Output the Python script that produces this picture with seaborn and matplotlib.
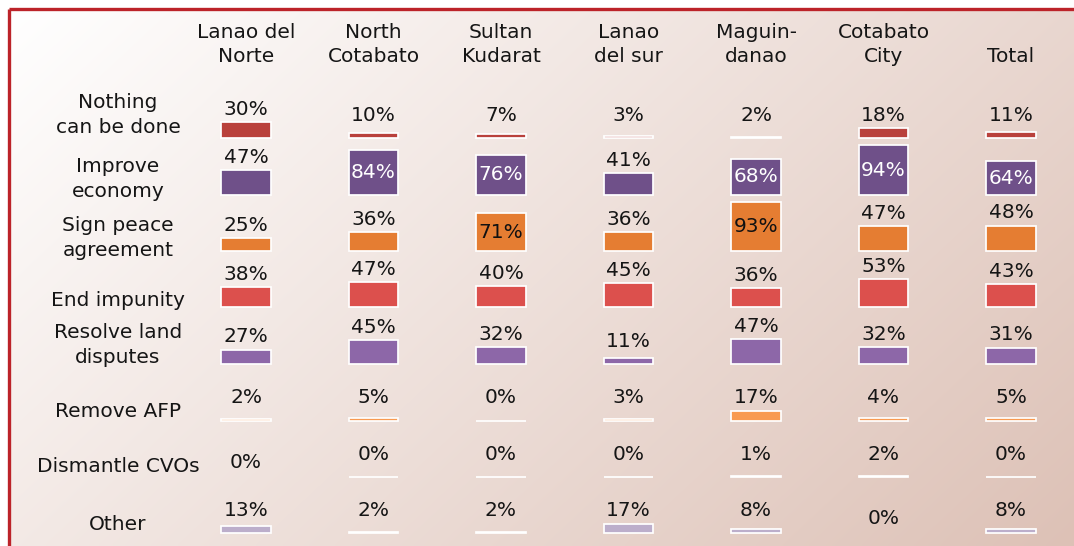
import numpy as np
import matplotlib
matplotlib.use("Agg")
import matplotlib.pyplot as plt
import seaborn as sns

# ---- data ---------------------------------------------------------------
regions = ["Lanao del\nNorte", "North\nCotabato", "Sultan\nKudarat",
           "Lanao\ndel sur", "Maguin-\ndanao", "Cotabato\nCity", "Total"]

actions = ["Nothing\ncan be done", "Improve\neconomy", "Sign peace\nagreement",
           "End impunity", "Resolve land\ndisputes", "Remove AFP",
           "Dismantle CVOs", "Other"]

nothing_done   = [30, 10, 7, 3, 2, 18, 11]
improve_econ   = [47, 84, 76, 41, 68, 94, 64]
sign_peace     = [25, 36, 71, 36, 93, 47, 48]
end_impunity   = [38, 47, 40, 45, 36, 53, 43]
resolve_land   = [27, 45, 32, 11, 47, 32, 31]
remove_afp     = [2, 5, 0, 3, 17, 4, 5]
dismantle_cvos = [0, 0, 0, 0, 1, 2, 0]
other          = [13, 2, 2, 17, 8, 0, 8]

values = [nothing_done, improve_econ, sign_peace, end_impunity,
          resolve_land, remove_afp, dismantle_cvos, other]

# cells reported as 0% with no bar drawn (row, column)
no_bar = {(6, 0), (7, 5)}

# ---- styling ------------------------------------------------------------
row_colors = ["#B9413C", "#6F5089", "#E57D32", "#DC504D",
              "#8D67A8", "#F89A50", "#A8BBD0", "#BCAECB"]
inside_text_color = {1: "white", 2: "#111111"}

W, H = 1074, 546
sns.set_style("white")
plt.rcParams["font.family"] = ["DejaVu Sans"]
FS = 14.5
TXT = "#151515"

fig = plt.figure(figsize=(W / 100, H / 100), dpi=100)

# background panel with a soft diagonal gradient and a red frame
bg = fig.add_axes([0, 0, 1, 1], zorder=-5)
bg.set_xlim(0, W)
bg.set_ylim(H, 0)
bg.axis("off")
gx, gy = np.meshgrid(np.linspace(0, 1, 300), np.linspace(0, 1, 160))
t = 0.65 * gx + 0.35 * gy
c0 = np.array([255, 255, 255]) / 255
c1 = np.array([221, 193, 182]) / 255
grad = c0[None, None, :] + t[..., None] * (c1 - c0)[None, None, :]
bg.imshow(grad, extent=(10, W, H, 10), aspect="auto", interpolation="bilinear")
bg.plot([9, 9], [9, H], color="#BC2329", lw=2.4, solid_capstyle="butt")
bg.plot([9, W], [9, 9], color="#BC2329", lw=2.4, solid_capstyle="butt")

# column headers
col_left, col_width = 182.25, 892.5
step = col_width / len(regions)
for j, name in enumerate(regions):
    xc = (col_left + step * (j + 0.5)) / W
    fig.text(xc, 1 - 62 / H, name, ha="center", va="baseline",
             fontsize=FS, color=TXT, linespacing=1.36)

# one strip of bars per action
baselines = [138, 195, 251, 307, 364, 420.5, 477, 533]
label_lift = [23, 16, 13, 7, 19, 9, 11, 8]
px_per_100 = 53

for i, (action, vals) in enumerate(zip(actions, values)):
    base = baselines[i]
    ax = fig.add_axes([col_left / W, (H - base) / H, col_width / W, px_per_100 / H])
    sns.barplot(x=list(range(len(regions))), y=vals, color=row_colors[i],
                saturation=1, width=0.39, edgecolor="white", linewidth=1.25,
                ax=ax)
    ax.set_xlim(-0.5, len(regions) - 0.5)
    ax.set_ylim(0, 100)
    ax.axis("off")
    for j, p in enumerate(ax.patches):
        p.set_clip_on(False)
        if (i, j) in no_bar:
            p.set_visible(False)

    for j, v in enumerate(vals):
        label = f"{v}%"
        if (i, j) in no_bar:
            ax.text(j, 27, label, ha="center", va="center", fontsize=FS,
                    color=TXT, clip_on=False)
        elif v >= 60:
            ax.text(j, v / 2, label, ha="center", va="center", fontsize=FS,
                    color=inside_text_color.get(i, "white"), clip_on=False)
        else:
            ax.text(j, max(v + 24, 43), label, ha="center", va="center",
                    fontsize=FS, color=TXT, clip_on=False)

    fig.text(118 / W, 1 - (base - label_lift[i]) / H, action, ha="center",
             va="center", fontsize=FS, color=TXT, linespacing=1.36)

fig.savefig("out.png", dpi=100)
